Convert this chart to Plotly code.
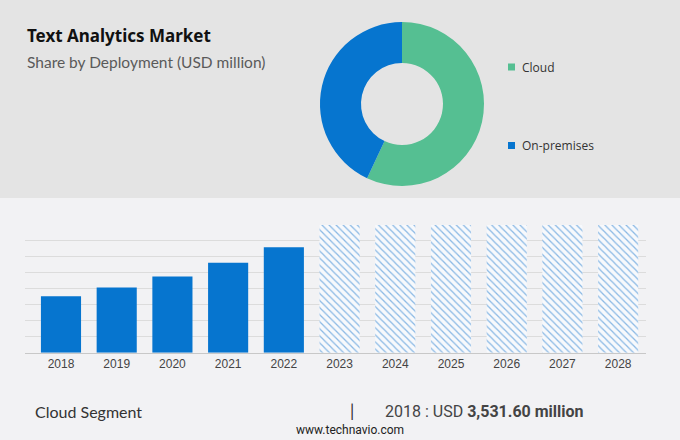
import plotly.graph_objects as go

# ---- data ----
years = ["2018", "2019", "2020", "2021", "2022", "2023", "2024", "2025", "2026", "2027", "2028"]
hist_years = years[:5]
hist_values = [3531.6, 4092, 4777, 5630, 6602]
forecast_years = years[5:]
forecast_values = [8000, 8000, 8000, 8000, 8000, 8000]  # placeholder hatched bars (full height)
segments = ["Cloud", "On-premises"]
shares = [57, 43]

BLUE = "#0675cf"
GREEN = "#55bf92"

fig = go.Figure()

fig.add_trace(go.Bar(
    x=hist_years, y=hist_values, marker=dict(color=BLUE, line=dict(width=0)),
    width=0.72, showlegend=False, hoverinfo="skip"))
fig.add_trace(go.Bar(
    x=forecast_years, y=forecast_values,
    marker=dict(color="#f7f9fc", line=dict(width=0),
                pattern=dict(shape="\\", fgcolor="#1d78cc", bgcolor="#f7f9fc",
                             size=5, solidity=0.25)),
    width=0.72, showlegend=False, hoverinfo="skip"))

fig.add_trace(go.Pie(
    labels=segments, values=shares, hole=0.5, sort=False, direction="clockwise",
    rotation=0, marker=dict(colors=[GREEN, BLUE], line=dict(width=0)),
    textinfo="none", showlegend=False, hoverinfo="skip",
    domain=dict(x=[320/680, 484/680], y=[1-186/440, 1-22/440])))

W, H = 680, 440
def px(x): return x / W
def py(y): return 1 - y / H

shapes = [
    dict(type="rect", xref="paper", yref="paper", x0=0, x1=1, y0=py(198), y1=1,
         fillcolor="#e4e4e4", line=dict(width=0), layer="below"),
    dict(type="rect", xref="paper", yref="paper", x0=px(508), x1=px(515), y0=py(70.5), y1=py(63.5),
         fillcolor=GREEN, line=dict(width=0)),
    dict(type="rect", xref="paper", yref="paper", x0=px(508), x1=px(515), y0=py(149), y1=py(142),
         fillcolor=BLUE, line=dict(width=0)),
]

annotations = [
    dict(text="<b>Text Analytics Market</b>", x=px(25), y=py(35), xref="paper", yref="paper",
         xanchor="left", yanchor="middle", showarrow=False,
         font=dict(family="Noto Sans", size=17, color="#111111")),
    dict(text="Share by Deployment (USD million)", x=px(25), y=py(62), xref="paper", yref="paper",
         xanchor="left", yanchor="middle", showarrow=False,
         font=dict(family="Lato", size=15.5, color="#5a5a5a")),
    dict(text="Cloud", x=px(520), y=py(67), xref="paper", yref="paper",
         xanchor="left", yanchor="middle", showarrow=False,
         font=dict(family="Open Sans", size=12, color="#333333")),
    dict(text="On-premises", x=px(520), y=py(145.5), xref="paper", yref="paper",
         xanchor="left", yanchor="middle", showarrow=False,
         font=dict(family="Open Sans", size=12, color="#333333")),
    dict(text="Cloud Segment", x=px(33), y=py(411), xref="paper", yref="paper",
         xanchor="left", yanchor="middle", showarrow=False,
         font=dict(family="Lato", size=16, color="#333333")),
    dict(text="|", x=px(352), y=py(410), xref="paper", yref="paper",
         xanchor="center", yanchor="middle", showarrow=False,
         font=dict(family="Lato", size=17, color="#333333")),
    dict(text="2018 : USD <b>3,531.60 million</b>", x=px(383), y=py(411), xref="paper", yref="paper",
         xanchor="left", yanchor="middle", showarrow=False,
         font=dict(family="Roboto", size=16, color="#444444")),
    dict(text="www.technavio.com", x=px(350), y=py(430), xref="paper", yref="paper",
         xanchor="center", yanchor="middle", showarrow=False,
         font=dict(family="Roboto", size=12, color="#222222")),
]

fig.update_layout(
    width=W, height=H, margin=dict(l=0, r=0, t=0, b=0),
    paper_bgcolor="#f2f2f4", plot_bgcolor="rgba(0,0,0,0)",
    barmode="overlay", bargap=0.28,
    shapes=shapes, annotations=annotations,
    xaxis=dict(domain=[px(25), px(646)], type="category", range=[-0.646, 10.5],
               showgrid=False, showline=True, linecolor="#c8c8c8", linewidth=1,
               ticks="", tickfont=dict(family="Liberation Sans", size=12, color="#444444"),
               fixedrange=True),
    yaxis=dict(domain=[py(352.7), py(225)], range=[0, 8000], dtick=1000,
               showgrid=True, gridcolor="#dcdcdc", gridwidth=1, zeroline=False,
               showticklabels=False, fixedrange=True),
)

fig.write_html("out.html", config={"displayModeBar": False},
               post_script="document.body.style.margin='0';document.body.style.overflow='hidden';")
